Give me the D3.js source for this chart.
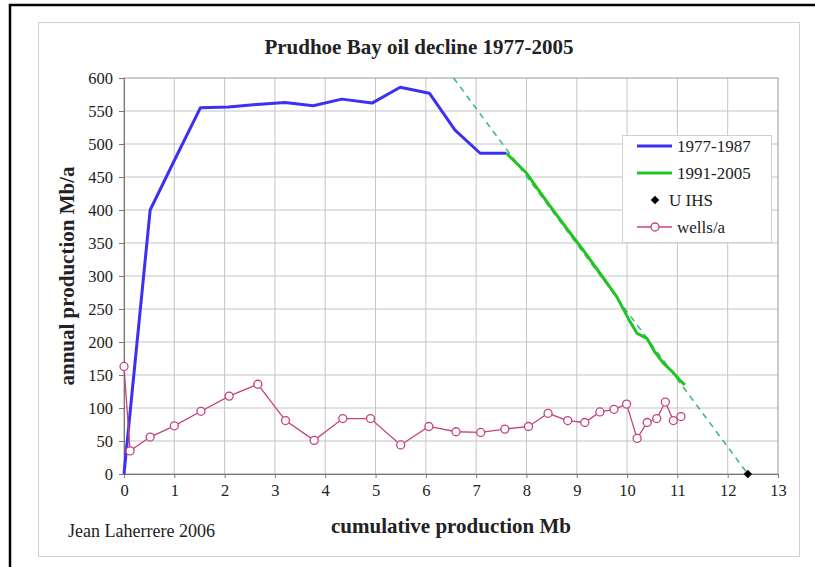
<!DOCTYPE html>
<meta charset="utf-8">
<script src="https://d3js.org/d3.v7.min.js"></script>
<style>
body { margin: 0; background: #fff; }
text { font-family: "Liberation Serif", "Times New Roman", serif; fill: #222; }
</style>
<div id="chart"></div>
<script>

// production 1977-1987: cumulative Mb, annual Mb/a
var cum77 = [0, 0.52, 1.0, 1.52, 2.08, 2.64, 3.2, 3.76, 4.33, 4.93, 5.49, 6.07, 6.58, 7.08, 7.6];
var prod77 = [0, 400, 475, 555, 556, 560, 563, 558, 568, 562, 586, 577, 521, 486, 486];

// production 1991-2005
var cum91 = [7.6, 8.0, 8.4, 8.8, 9.15, 9.5, 9.8, 10.05, 10.2, 10.4, 10.55, 10.72, 10.9, 11.05, 11.15];
var prod91 = [486, 456, 413, 372, 337, 300, 268, 232, 213, 205, 185, 168, 155, 142, 135];

// wells per year
var cumWells = [0, 0.12, 0.52, 1.0, 1.53, 2.09, 2.66, 3.21, 3.78, 4.35, 4.9, 5.5, 6.06, 6.6, 7.09,
                7.57, 8.04, 8.43, 8.82, 9.16, 9.46, 9.74, 9.99, 10.2, 10.4, 10.59, 10.76, 10.92, 11.07];
var wells = [163, 35, 56, 73, 95, 118, 136, 81, 51, 84, 84, 44, 72, 64, 63,
             68, 72, 92, 81, 78, 94, 98, 106, 54, 78, 84, 109, 81, 87];

// decline trend and ultimate (IHS)
var trendCum = [6.55, 12.4];
var trendProd = [600, 0];
var ultimate = [12.4];

var xTicks = d3.range(0, 14);
var yTicks = d3.range(0, 601, 50);

var W = 815, H = 567;
var pLeft = 124, pRight = 778, pTop = 78, pBottom = 474;

var svg = d3.select("#chart").append("svg")
  .attr("width", W)
  .attr("height", H);

// frames
svg.append("path")
  .attr("d", "M10," + H + "V5H" + W)
  .attr("fill", "none")
  .attr("stroke", "#000")
  .attr("stroke-width", 2.5);
svg.append("rect")
  .attr("x", 38.5).attr("y", 22.5)
  .attr("width", 761).attr("height", 534)
  .attr("fill", "none")
  .attr("stroke", "#d0d0d0");

var x = d3.scaleLinear().domain([0, 13]).range([pLeft, pRight]);
var y = d3.scaleLinear().domain([0, 600]).range([pBottom, pTop]);

// grid
svg.append("g")
  .selectAll("line")
  .data(xTicks.slice(1, -1))
  .enter().append("line")
    .attr("x1", d => x(d)).attr("x2", d => x(d))
    .attr("y1", pTop).attr("y2", pBottom)
    .attr("stroke", "#c4c4c4");
svg.append("g")
  .selectAll("line")
  .data(yTicks.slice(1, -1))
  .enter().append("line")
    .attr("x1", pLeft).attr("x2", pRight)
    .attr("y1", d => y(d)).attr("y2", d => y(d))
    .attr("stroke", "#c4c4c4");

svg.append("rect")
  .attr("x", pLeft).attr("y", pTop)
  .attr("width", pRight - pLeft).attr("height", pBottom - pTop)
  .attr("fill", "none")
  .attr("stroke", "#999");

// axes
var xAxis = svg.append("g")
  .attr("transform", "translate(0," + pBottom + ")")
  .call(d3.axisBottom(x).tickValues(xTicks).tickSize(4).tickPadding(6));
var yAxis = svg.append("g")
  .attr("transform", "translate(" + pLeft + ",0)")
  .call(d3.axisLeft(y).tickValues(yTicks).tickSize(5).tickPadding(6));
[xAxis, yAxis].forEach(function(a) {
  a.select(".domain").attr("stroke", "#777");
  a.selectAll(".tick line").attr("stroke", "#777");
  a.selectAll(".tick text")
    .style("font-family", "Liberation Serif, serif")
    .style("font-size", "16.5px")
    .attr("fill", "#222");
});

var line = d3.line().x(d => x(d[0])).y(d => y(d[1]));

// trend line
svg.append("path")
  .datum(d3.zip(trendCum, trendProd))
  .attr("d", line)
  .attr("fill", "none")
  .attr("stroke", "#3cbb86")
  .attr("stroke-width", 1.6)
  .attr("stroke-dasharray", "6,5");

svg.append("path")
  .datum(d3.zip(cum77, prod77))
  .attr("d", line)
  .attr("fill", "none")
  .attr("stroke", "#3d30f2")
  .attr("stroke-width", 3)
  .attr("stroke-linejoin", "round");

svg.append("path")
  .datum(d3.zip(cum91, prod91))
  .attr("d", line)
  .attr("fill", "none")
  .attr("stroke", "#22c422")
  .attr("stroke-width", 3)
  .attr("stroke-linejoin", "round");

var pink = "#c4437f";
svg.append("path")
  .datum(d3.zip(cumWells, wells))
  .attr("d", line)
  .attr("fill", "none")
  .attr("stroke", pink)
  .attr("stroke-width", 1.3);
svg.append("g")
  .selectAll("circle")
  .data(d3.zip(cumWells, wells))
  .enter().append("circle")
    .attr("cx", d => x(d[0]))
    .attr("cy", d => y(d[1]))
    .attr("r", 4)
    .attr("fill", "#fff")
    .attr("stroke", pink)
    .attr("stroke-width", 1.3);

var diamond = d3.symbol().type(d3.symbolSquare).size(36);
svg.append("g")
  .selectAll("path")
  .data(ultimate)
  .enter().append("path")
    .attr("d", diamond)
    .attr("transform", d => "translate(" + x(d) + "," + y(0) + ") rotate(45)")
    .attr("fill", "#000");

// legend
var lg = svg.append("g").attr("transform", "translate(622,135)");
lg.append("rect")
  .attr("x", 0.5).attr("y", 0.5)
  .attr("width", 149).attr("height", 107)
  .attr("fill", "#fff")
  .attr("stroke", "#d0d0d0");
var items = [
  {name: "1977-1987", type: "line", color: "#3d30f2"},
  {name: "1991-2005", type: "line", color: "#22c422"},
  {name: "U IHS", type: "diamond", color: "#000"},
  {name: "wells/a", type: "wells", color: pink}
];
items.forEach(function(it, i) {
  var cy = 11 + i * 27;
  if (it.type === "line") {
    lg.append("line").attr("x1", 15).attr("x2", 50).attr("y1", cy).attr("y2", cy)
      .attr("stroke", it.color).attr("stroke-width", 3);
  } else if (it.type === "diamond") {
    lg.append("path").attr("d", diamond).attr("transform", "translate(33," + cy + ") rotate(45)")
      .attr("fill", it.color);
  } else {
    lg.append("line").attr("x1", 15).attr("x2", 50).attr("y1", cy).attr("y2", cy)
      .attr("stroke", it.color).attr("stroke-width", 1.3);
    lg.append("circle").attr("cx", 33).attr("cy", cy).attr("r", 4)
      .attr("fill", "#fff").attr("stroke", it.color).attr("stroke-width", 1.3);
  }
  lg.append("text")
    .attr("x", it.type === "diamond" ? 47 : 55)
    .attr("y", cy + 5.5)
    .style("font-size", "17px")
    .text(it.name);
});

// titles
svg.append("text")
  .attr("x", 419).attr("y", 54)
  .attr("text-anchor", "middle")
  .style("font-size", "21px")
  .style("font-weight", "bold")
  .text("Prudhoe Bay oil decline 1977-2005");

svg.append("text")
  .attr("x", 451).attr("y", 533)
  .attr("text-anchor", "middle")
  .style("font-size", "21px")
  .style("font-weight", "bold")
  .text("cumulative production Mb");

svg.append("text")
  .attr("transform", "translate(74,276) rotate(-90)")
  .attr("text-anchor", "middle")
  .style("font-size", "21px")
  .style("font-weight", "bold")
  .text("annual production Mb/a");

svg.append("text")
  .attr("x", 68).attr("y", 537)
  .style("font-size", "18px")
  .text("Jean Laherrere 2006");

</script>
